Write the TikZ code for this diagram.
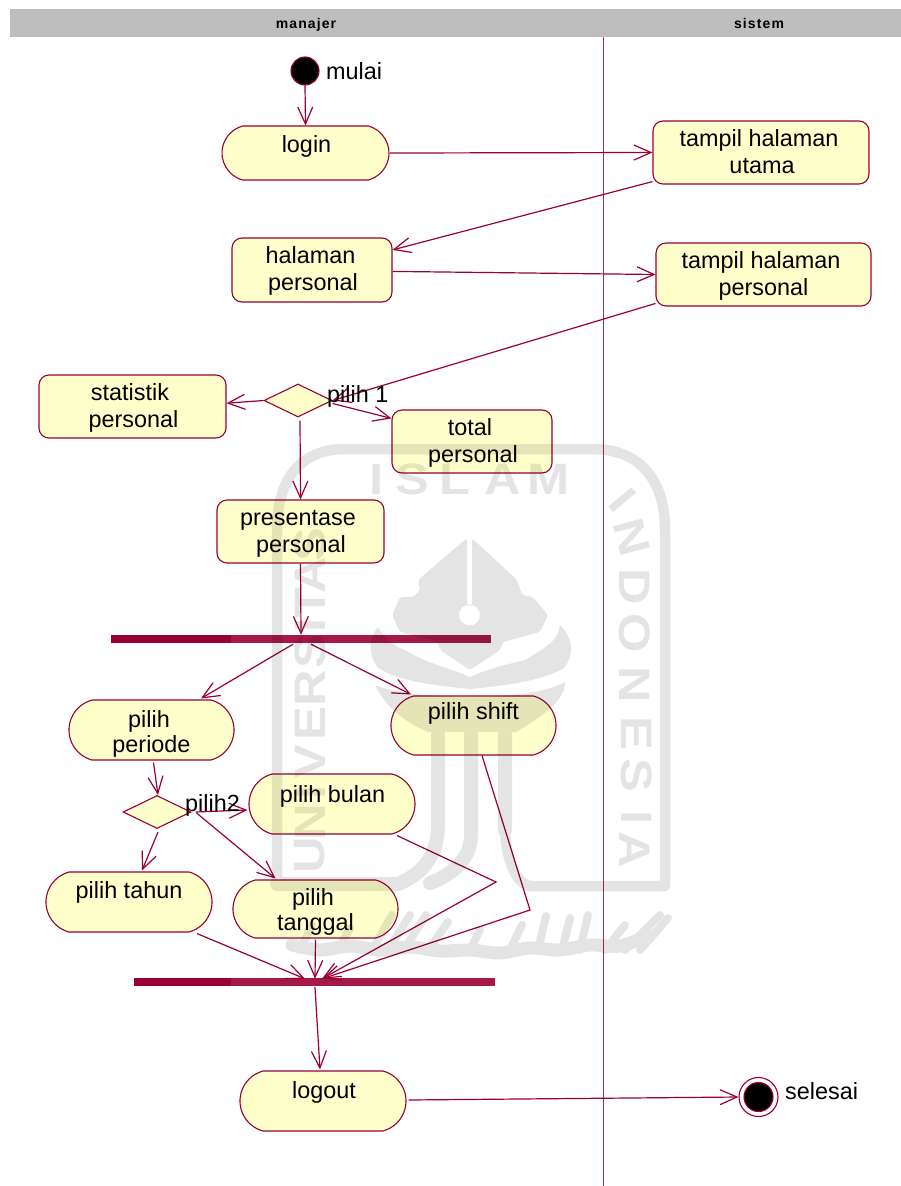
\documentclass[tikz,border=0pt]{standalone}
\usepackage{fontspec}
\setmainfont{Liberation Sans}
\usetikzlibrary{arrows.meta,shapes.geometric,shapes.misc}
\definecolor{rosered}{HTML}{990033}
\definecolor{barlight}{HTML}{A5194A}
\definecolor{lanecol}{HTML}{B02A5C}
\definecolor{boxfill}{HTML}{FFFFCC}
\definecolor{headgray}{HTML}{BEBEBE}
\newcommand\Ln[3]{\makebox[0pt]{\kern\dimexpr 2\dimexpr #1pt\relax\relax\raisebox{#2pt}{#3}}}
\newcommand\One[3]{\smash{\Ln{#1}{#2}{#3}}}
\newcommand\Two[6]{\smash{\Ln{#1}{#2}{#3}\Ln{#4}{#5}{#6}}}
\newcommand\wmletter[4]{\node[wmtext,rotate=#4] (#1) at (#2) {\scalebox{1.15}[1]{#3}};}
\tikzset{
  base/.style={draw=rosered,line width=1.1pt,fill=boxfill,inner sep=0pt,font=\fontsize{23.4}{27}\selectfont,text=black},
  activity/.style={base,rectangle,rounded corners=10pt,minimum width=#1},
  stadium/.style={base,rounded rectangle,rounded rectangle arc length=150,minimum width=#1},
  decision/.style={base,diamond,aspect=2.05,minimum width=68pt,minimum height=33pt},
  forkbar/.style={fill=barlight,inner sep=0pt,minimum height=8pt,minimum width=#1},
  freetext/.style={inner sep=0pt,anchor=base west,font=\fontsize{23.4}{27}\selectfont,text=black},
  headtext/.style={inner sep=0pt,anchor=base,font=\bfseries\fontsize{14}{16}\selectfont\addfontfeature{LetterSpace=8},text=black},
  flow/.style={draw=rosered,line width=1.2pt,-{Straight Barb[length=17pt,width=15pt,line width=1.2pt]}},
  wmtext/.style={inner sep=0pt,font=\bfseries\fontsize{44}{44}\selectfont,text=black},
  wmband/.style={draw=black,fill=none,line cap=round,line join=round}
}
\begin{document}
\begin{tikzpicture}[x=1pt,y=-1pt]
\useasboundingbox (0,0) rectangle (901,1186);
\fill[white] (0,0) rectangle (901,1186);
% swimlanes
\node[fill=headgray,inner sep=0pt,minimum width=891pt,minimum height=28pt] (header) at (455.5,23) {};
\node[headtext] (manajer) at (306,28) {manajer};
\node[headtext] (sistem) at (759,28) {sistem};
\fill[lanecol] (602.9,37) rectangle (604.1,1186);
% nodes
\node[base,circle,fill=black,minimum size=28pt] (start) at (305,71) {};
\node[freetext] (mulai) at (326,79) {mulai};
\node[stadium=167pt,minimum height=54pt] (login) at (305.5,153) {\One{1}{1}{login}};
\node[activity=216pt,minimum height=63pt] (utama) at (761,152.5) {\Two{-2}{6.5}{tampil halaman}{1}{-20.5}{utama}};
\node[activity=160pt,minimum height=64pt] (halaman) at (312,270) {\Two{-1.5}{7}{halaman}{1}{-20}{personal}};
\node[activity=215pt,minimum height=63pt] (tpersonal) at (763.5,274.5) {\Two{-2.5}{6.5}{tampil halaman}{0}{-20.5}{personal}};
\node[activity=187pt,minimum height=63pt] (statistik) at (132.5,406.5) {\Two{-2.5}{6.5}{statistik}{1}{-20.5}{personal}};
\node[decision] (d1) at (298,400.5) {};
\node[activity=160pt,minimum height=63pt] (total) at (472,441.5) {\Two{-2}{6.5}{total}{1}{-20.5}{personal}};
\node[activity=167pt,minimum height=63pt] (presentase) at (300.5,531.5) {\Two{-2.5}{6.5}{presentase}{0.5}{-20.5}{personal}};
\node[forkbar=380pt] (bar1) at (301,639) {};
\fill[rosered] (111,635) rectangle (231,643);
\node[stadium=165pt,minimum height=60pt] (periode) at (151.5,730) {\Two{-2.5}{3}{pilih}{0}{-22}{periode}};
\node[stadium=165pt,minimum height=59pt] (pshift) at (473.5,725.5) {\One{0}{6.5}{pilih shift}};
\node[decision] (d2) at (157,812) {};
\node[stadium=166pt,minimum height=60pt] (bulan) at (332,804) {\One{0.5}{2}{pilih bulan}};
\node[stadium=166pt,minimum height=60pt] (tahun) at (129,902) {\One{0}{4}{pilih tahun}};
\node[stadium=165pt,minimum height=58pt] (tanggal) at (315.5,909) {\Two{-2.5}{4}{pilih}{0}{-21}{tanggal}};
\node[forkbar=361pt] (bar2) at (314.5,982) {};
\fill[rosered] (134,978) rectangle (231,986);
\node[stadium=166pt,minimum height=60pt] (logout) at (323,1101) {\One{1}{3}{logout}};
\node[base,circle,fill=white,minimum size=39pt] (finalring) at (758.5,1097) {};
\node[base,circle,fill=black,minimum size=29pt] (finaldot) at (758.5,1097) {};
\node[freetext] (selesai) at (785,1099) {selesai};
\coordinate (wpA) at (496,882);
\coordinate (wpB) at (530,910);
% connectors
\draw[flow] (start.south) -- (login.north);
\draw[flow] (login.east) -- (utama.west);
\draw[flow] (utama.195) -- (halaman.14.5);
\draw[flow] (halaman.-1) -- (tpersonal.west);
\draw[flow] (tpersonal.195.8) -- (d1.east);
\draw[flow] (d1.west) -- (statistik.2);
\draw[flow] ([shift={(0,3)}]d1.east) -- (total.164);
\draw[flow] ([shift={(2,3)}]d1.south) -- (presentase.north);
\draw[flow] (presentase.south) -- (bar1.north);
\draw[flow] ([shift={(-8,1)}]bar1.south) -- ([shift={(49.5,-1)}]periode.north);
\draw[flow] ([shift={(10,1)}]bar1.south) -- ([shift={(-62.5,-1)}]pshift.north);
\draw[flow] ([shift={(2,2)}]periode.south) -- ([shift={(1,0)}]d2.north);
\draw[flow] ([shift={(4,0)}]d2.east) -- ([shift={(-1,6)}]bulan.west);
\draw[flow] ([shift={(5,1)}]d2.east) -- ([shift={(-40,-1)}]tanggal.north);
\draw[flow] ([shift={(1,3)}]d2.south) -- ([shift={(13,-1)}]tahun.north);
\draw[flow] ([shift={(68,1)}]tahun.south) -- ([shift={(-9.5,1)}]bar2.north);
\draw[flow] ([shift={(0,1)}]tanggal.south) -- ([shift={(0.5,1)}]bar2.north);
\draw[flow] ([shift={(65,1)}]bulan.south) -- (wpA) -- ([shift={(7.5,1)}]bar2.north);
\draw[flow] ([shift={(8.5,0)}]pshift.south) -- (wpB) -- ([shift={(7.5,1)}]bar2.north);
\draw[flow] ([shift={(0.5,1)}]bar2.south) -- ([shift={(-3,-1)}]logout.north);
\draw[flow] ([shift={(2,-1)}]logout.east) -- (finalring.west);
\node[freetext] (pilih1) at (327,402) {pilih 1};
\node[freetext] (pilih2) at (185,811) {pilih2};
% watermark
\begin{scope}[transparency group,opacity=0.105]
\draw[wmband,line width=10.5pt] (277,880) -- (277,530) .. controls (277,480) and (300,449) .. (345,449) -- (592,449)
  .. controls (640,449) and (665,480) .. (665,530) -- (665,886) -- (530,886)
  .. controls (520,886) and (505,865) .. (505,825) -- (505,735);
\draw[wmband,line width=14pt] (438,735) -- (438,825) .. controls (438,858) and (420,875) .. (398,884) -- (277,884);
\draw[wmband,line width=14pt] (471,735) -- (471,835) .. controls (471,860) and (450,876) .. (430,883);
\draw[wmband,line width=14pt] (505,735) -- (505,830);
% nib with slit and circle
\fill[even odd rule,rounded corners=3pt] (467,538) -- (418,580) -- (420,590) -- (413,597) -- (400,597) -- (392,615) -- (400,632) -- (438,642) -- (440,650) -- (470,670) -- (500,650) -- (503,642) -- (540,632) -- (548,615) -- (533,597) -- (522,595) -- (517,580) -- (472,538) -- (472,606) -- (469.5,604.5) -- (467,606) -- cycle (469.5,615) circle (10.5pt);
% wings
\fill (378,627) .. controls (368,640) and (368,655) .. (378,668) .. controls (400,682) and (440,686) .. (470,689)
  .. controls (500,686) and (540,682) .. (564,668) .. controls (574,655) and (574,640) .. (560,625)
  .. controls (558,640) and (550,645) .. (525,660) .. controls (505,665) and (490,668) .. (470,677)
  .. controls (450,668) and (430,665) .. (405,650) .. controls (392,645) and (385,640) .. cycle;
\fill (375,685) .. controls (400,695) and (440,697) .. (470,697) .. controls (500,697) and (540,695) .. (565,682)
  .. controls (565,700) and (545,715) .. (516,732) -- (428,732) .. controls (400,720) and (385,705) .. cycle;
% calligraphic band
\draw[wmband,line width=13pt] plot[smooth] coordinates {(292,945) (320,950) (350,946) (380,950) (410,947) (440,951) (470,950) (500,953) (530,948) (560,950) (590,945) (620,946) (650,935)};
\foreach \xa/\xb/\ya in {300/312/925,338/350/928,372/392/915,388/410/915,404/426/915,428/448/922,470/480/930,510/522/925,538/546/916,562/570/918,580/588/915,605/625/925,625/660/915,640/668/918}{
  \draw[wmband,line width=8pt] (\xa,950) -- (\xb,\ya);
}
% letters
\wmletter{wi1}{377,479}{I}{0}
\wmletter{wi2}{412,479}{S}{0}
\wmletter{wi3}{455,479}{L}{0}
\wmletter{wi4}{503,479}{A}{0}
\wmletter{wi5}{549,479}{M}{0}
\wmletter{wj1}{623,500}{I}{-50}
\wmletter{wj2}{632,537}{N}{-75}
\wmletter{wj3}{635,587}{D}{-90}
\wmletter{wj4}{635,633}{O}{-90}
\wmletter{wj5}{635,685}{N}{-90}
\wmletter{wj6}{637,733}{E}{-90}
\wmletter{wj7}{637,775}{S}{-90}
\wmletter{wj8}{637,818}{I}{-90}
\wmletter{wj9}{635,850}{A}{-90}
\wmletter{wk1}{310,855}{U}{90}
\wmletter{wk2}{310,822}{N}{90}
\wmletter{wk3}{310,792}{I}{90}
\wmletter{wk4}{310,762}{V}{90}
\wmletter{wk5}{310,724}{E}{90}
\wmletter{wk6}{310,688}{R}{90}
\wmletter{wk7}{310,652}{S}{90}
\wmletter{wk8}{310,625}{I}{90}
\wmletter{wk9}{310,603}{T}{90}
\wmletter{wk10}{310,575}{A}{90}
\wmletter{wk11}{310,545}{S}{90}
\end{scope}
\end{tikzpicture}
\end{document}
